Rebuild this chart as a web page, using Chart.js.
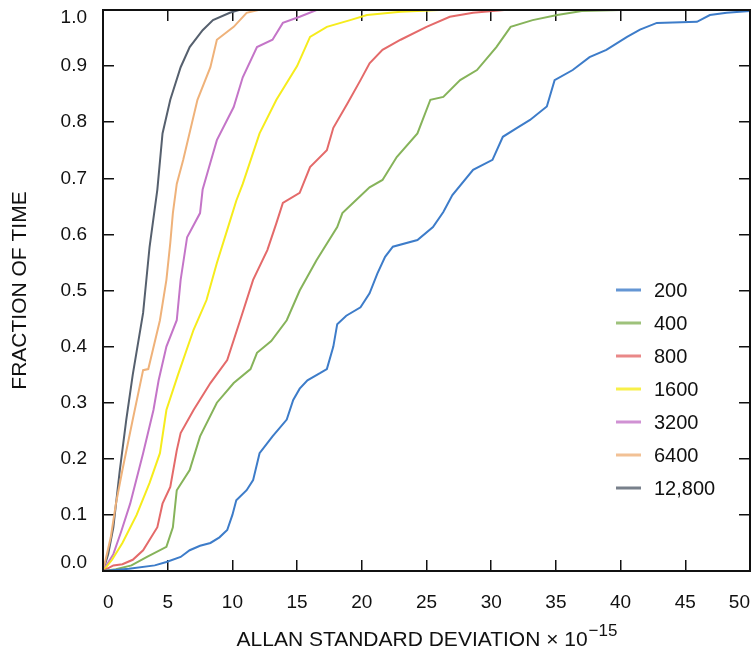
<!DOCTYPE html>
<html><head><meta charset="utf-8">
<script src="https://cdn.jsdelivr.net/npm/chart.js@4/dist/chart.umd.min.js"></script>
<style>html,body{margin:0;padding:0;background:#fff}</style>
</head><body><canvas id="c" width="754" height="654"></canvas>
<script>
// ---- data ----
const seriesLabels = ['200', '400', '800', '1600', '3200', '6400', '12,800'];
const seriesColors = ['#3d7cc9', '#86b35a', '#e46a6a', '#f6ec1c', '#c475c8', '#efb27a', '#56606e'];

const s200 = [[0,0],[2,0.004],[4,0.01],[4.9,0.016],[6,0.025],[6.7,0.037],[7.5,0.045],[8.3,0.05],[9,0.06],[9.6,0.073],[10,0.1],[10.3,0.126],[11.1,0.144],[11.6,0.162],[12.1,0.21],[13.1,0.24],[14.2,0.27],[14.7,0.305],[15.2,0.325],[15.8,0.34],[16.8,0.353],[17.3,0.36],[17.8,0.40],[18.1,0.44],[18.8,0.455],[19.9,0.47],[20.6,0.495],[21.2,0.53],[21.8,0.56],[22.4,0.578],[24.3,0.59],[25.5,0.613],[26.3,0.64],[27,0.67],[28.6,0.715],[30.1,0.733],[30.9,0.774],[32,0.79],[33,0.804],[34.3,0.828],[34.9,0.875],[36.3,0.893],[37.6,0.916],[38.9,0.929],[40.5,0.952],[41.5,0.965],[42.8,0.977],[45.9,0.979],[46.9,0.991],[48.2,0.995],[50,0.998]];
const s400 = [[0,0],[1,0.003],[2.2,0.01],[3.4,0.025],[4.9,0.043],[5.4,0.078],[5.7,0.144],[6.7,0.18],[7.5,0.24],[8.8,0.3],[10.1,0.335],[11.4,0.36],[11.9,0.389],[13,0.41],[14.2,0.447],[15.2,0.5],[16.5,0.554],[18.1,0.613],[18.5,0.638],[19.5,0.66],[20.6,0.684],[21.6,0.697],[22.7,0.738],[24.3,0.78],[25.3,0.84],[26.3,0.845],[27.6,0.875],[28.9,0.893],[30.4,0.934],[31.5,0.97],[33.2,0.982],[35.1,0.991],[37,0.998],[40,1],[50,1]];
const s800 = [[0,0],[0.8,0.01],[1.5,0.012],[2.3,0.02],[3.1,0.037],[4.2,0.078],[4.6,0.12],[5.2,0.15],[5.7,0.215],[6,0.246],[7,0.287],[8.3,0.335],[9.6,0.376],[10.6,0.447],[11.6,0.519],[12.7,0.572],[13.4,0.62],[13.9,0.656],[15.2,0.674],[16,0.72],[17.3,0.75],[17.8,0.79],[18.9,0.834],[19.9,0.875],[20.6,0.905],[21.6,0.929],[23,0.947],[25,0.97],[26.8,0.988],[28.6,0.995],[31,1],[50,1]];
const s1600 = [[0,0],[0.7,0.02],[1.5,0.05],[2.6,0.1],[3.6,0.157],[4.4,0.21],[4.9,0.287],[5.8,0.35],[7,0.43],[8,0.483],[8.8,0.549],[9.6,0.608],[10.3,0.66],[10.8,0.69],[12.1,0.78],[13.4,0.84],[15,0.9],[16,0.952],[17.3,0.97],[19.1,0.982],[20.4,0.991],[23,0.997],[26,1],[50,1]];
const s3200 = [[0,0],[0.8,0.03],[1.4,0.07],[2.1,0.12],[3.1,0.21],[3.9,0.287],[4.3,0.34],[4.9,0.4],[5.7,0.447],[6,0.519],[6.5,0.595],[7.5,0.638],[7.7,0.68],[8.2,0.72],[8.8,0.768],[10.1,0.827],[10.8,0.88],[11.9,0.934],[13.1,0.947],[13.9,0.977],[15.2,0.988],[16.5,1],[50,1]];
const s6400 = [[0,0],[0.6,0.06],[1,0.12],[1.5,0.18],[2.3,0.27],[3.1,0.358],[3.5,0.36],[4.4,0.447],[4.9,0.519],[5.2,0.585],[5.4,0.638],[5.7,0.69],[6.2,0.733],[7.3,0.84],[8.3,0.898],[8.8,0.947],[10.1,0.97],[11.1,0.995],[12,1],[50,1]];
const s12800 = [[0,0],[0.4,0.03],[0.8,0.078],[1.3,0.18],[1.8,0.27],[2.3,0.35],[3.1,0.46],[3.6,0.578],[4.2,0.68],[4.6,0.78],[5.2,0.84],[6,0.898],[6.7,0.934],[7.7,0.964],[8.5,0.982],[9.8,0.995],[10.5,1],[50,1]];
const seriesData = [s200, s400, s800, s1600, s3200, s6400, s12800];

const xTicks = [0, 5, 10, 15, 20, 25, 30, 35, 40, 45, 50];
const yTicks = [0.0, 0.1, 0.2, 0.3, 0.4, 0.5, 0.6, 0.7, 0.8, 0.9, 1.0];
const xTitleMain = 'ALLAN STANDARD DEVIATION \u00d7 10';
const xTitleExp = '\u221215';
const yTitle = 'FRACTION OF TIME';

// ---- chart ----
const FONT = "'Liberation Sans', Arial, Helvetica, sans-serif";
const INK = '#111111';
const TICK_IN = -11;   // negative tick length: tick marks point into the plot

function noPad(s) { s.paddingTop = 0; s.paddingBottom = 0; s.paddingLeft = 0; s.paddingRight = 0; }
const tickGrid = { display: true, drawOnChartArea: false, drawTicks: true, tickLength: TICK_IN, color: INK, lineWidth: 1.5 };

const bgPlugin = {
  id: 'bgPlugin',
  beforeDraw(chart) {
    const c = chart.ctx;
    c.save(); c.fillStyle = '#ffffff'; c.fillRect(0, 0, chart.width, chart.height); c.restore();
  }
};

const legendTitlePlugin = {
  id: 'legendTitlePlugin',
  afterDraw(chart) {
    const c = chart.ctx, a = chart.chartArea;
    c.save();
    // frame
    c.fillStyle = INK;
    c.fillRect(a.left - 1, a.top - 1, a.right - a.left + 2, 2);
    c.fillRect(a.left - 1, a.bottom - 1, a.right - a.left + 2, 2);
    c.fillRect(a.left - 1, a.top - 1, 2, a.bottom - a.top + 2);
    c.fillRect(a.right - 1, a.top - 1, 2, a.bottom - a.top + 2);
    // legend
    c.font = '20px ' + FONT;
    c.textBaseline = 'middle'; c.textAlign = 'left';
    chart.data.datasets.forEach((ds, i) => {
      const y = 290 + 33 * i;
      c.globalAlpha = 0.8;
      c.strokeStyle = ds.borderColor; c.lineWidth = 3;
      c.beginPath(); c.moveTo(616, y); c.lineTo(641, y); c.stroke();
      c.globalAlpha = 1;
      c.fillStyle = INK;
      c.fillText(ds.label, 654, y + 1);
    });
    // x title with superscript exponent
    c.font = '21px ' + FONT;
    const w1 = c.measureText(xTitleMain).width;
    c.font = '17px ' + FONT;
    const w2 = c.measureText(xTitleExp).width;
    const x0 = (a.left + a.right) / 2 - (w1 + w2) / 2;
    const base = 646;
    c.textBaseline = 'alphabetic';
    c.fillStyle = INK;
    c.font = '21px ' + FONT;
    c.fillText(xTitleMain, x0, base);
    c.font = '17px ' + FONT;
    c.fillText(xTitleExp, x0 + w1 + 1, base - 10);
    c.restore();
  }
};

new Chart(document.getElementById('c'), {
  type: 'scatter',
  data: {
    datasets: seriesData.map((d, i) => ({
      label: seriesLabels[i],
      data: d.map(p => ({x: p[0], y: p[1]})),
      borderColor: seriesColors[i],
      backgroundColor: seriesColors[i],
      showLine: true,
      pointRadius: 0,
      borderWidth: 2,
      tension: 0
    }))
  },
  options: {
    responsive: false,
    animation: false,
    devicePixelRatio: 1,
    layout: { padding: { top: 10, right: 4, left: 0, bottom: 0 } },
    plugins: { legend: { display: false }, tooltip: { enabled: false } },
    scales: {
      x: {
        type: 'linear', position: 'bottom', min: 0, max: 50,
        afterBuildTicks: s => { s.ticks = xTicks.map(v => ({value: v})); },
        afterFit: s => { s.height = 83; noPad(s); },
        grid: tickGrid,
        border: { display: false },
        ticks: { align: 'inner', color: INK, font: { family: FONT, size: 19 }, padding: 20 - TICK_IN, maxRotation: 0, autoSkip: false,
          callback: v => String(v) }
      },
      y: {
        type: 'linear', position: 'left', min: 0, max: 1,
        afterBuildTicks: s => { s.ticks = yTicks.map(v => ({value: v})); },
        afterFit: s => { s.width = 103; noPad(s); },
        grid: tickGrid,
        border: { display: false },
        title: { display: true, text: yTitle, color: INK, font: { family: FONT, size: 21 }, padding: { top: 8, bottom: 0 } },
        ticks: { color: INK, font: { family: FONT, size: 19, lineHeight: 0.85 }, padding: 16 - TICK_IN, autoSkip: false,
          callback: v => {
            const t = Number(v).toFixed(1);
            if (v >= 1) return ['', t];
            if (v <= 0) return [t, ''];
            return t;
          } }
      },
      x2: {
        type: 'linear', axis: 'x', position: 'top', min: 0, max: 50,
        afterBuildTicks: s => { s.ticks = xTicks.map(v => ({value: v})); },
        afterFit: s => { s.height = 0; noPad(s); },
        grid: tickGrid,
        border: { display: false },
        ticks: { display: false }
      },
      y2: {
        type: 'linear', axis: 'y', position: 'right', min: 0, max: 1,
        afterBuildTicks: s => { s.ticks = yTicks.map(v => ({value: v})); },
        afterFit: s => { s.width = 0; noPad(s); },
        grid: tickGrid,
        border: { display: false },
        ticks: { display: false }
      }
    }
  },
  plugins: [bgPlugin, legendTitlePlugin]
});
</script>
</body></html>
